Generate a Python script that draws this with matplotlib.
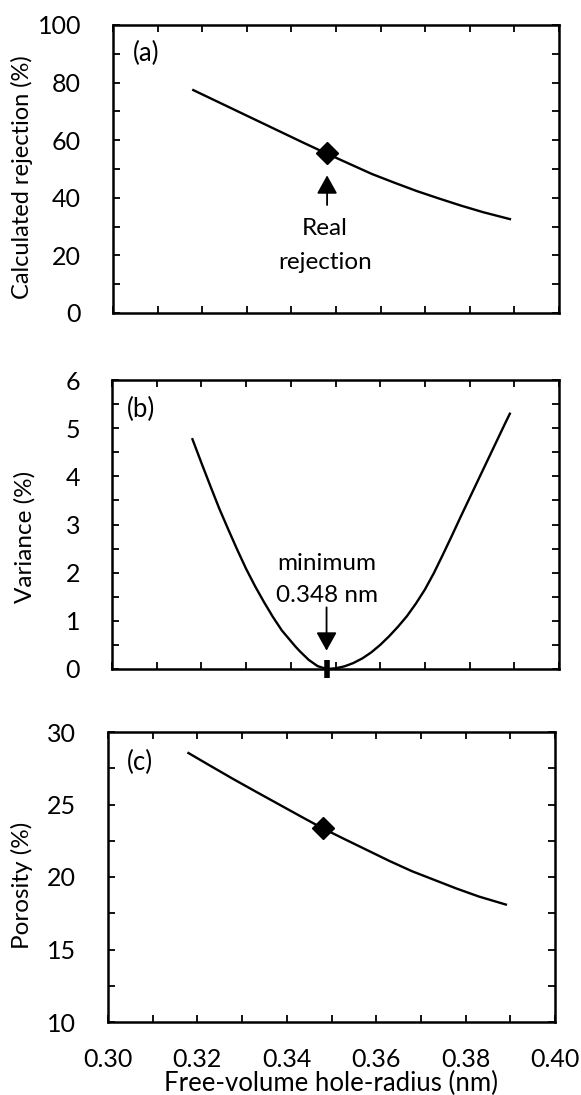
import matplotlib
matplotlib.use("Agg")
import matplotlib.pyplot as plt
from matplotlib.ticker import MultipleLocator, FormatStrFormatter

plt.rcParams['font.family'] = ['Lato', 'DejaVu Sans']
plt.rcParams['font.size'] = 17.5

# hole radius (nm)
radius = [0.318, 0.323, 0.328, 0.333, 0.338, 0.343, 0.348, 0.353, 0.358,
          0.363, 0.368, 0.373, 0.378, 0.383, 0.389]
rejection = [77.4, 73.7, 70.0, 66.3, 62.6, 58.9, 55.3, 51.8, 48.3,
             45.3, 42.4, 39.8, 37.3, 35.0, 32.6]
porosity = [28.55, 27.65, 26.76, 25.9, 25.05, 24.2, 23.36, 22.6, 21.85,
            21.1, 20.4, 19.8, 19.2, 18.65, 18.1]

var_radius = [0.318, 0.320, 0.322, 0.324, 0.326, 0.328, 0.330, 0.332, 0.334,
              0.336, 0.338, 0.340, 0.341, 0.342, 0.344, 0.346, 0.348, 0.350,
              0.352, 0.354, 0.356, 0.358, 0.360, 0.362, 0.364, 0.366, 0.368,
              0.370, 0.372, 0.374, 0.376, 0.378, 0.380, 0.382, 0.384, 0.386,
              0.388, 0.389]
variance = [4.77, 4.28, 3.80, 3.33, 2.90, 2.48, 2.08, 1.72, 1.39,
            1.08, 0.80, 0.58, 0.47, 0.37, 0.19, 0.06, 0.0, 0.014,
            0.055, 0.124, 0.22, 0.345, 0.50, 0.68, 0.88, 1.10, 1.36,
            1.65, 1.99, 2.37, 2.76, 3.16, 3.55, 3.94, 4.33, 4.72,
            5.11, 5.30]

real_r, real_rej = 0.348, 55.5
real_por = 23.36
min_r = 0.348

fig = plt.figure(figsize=(5.81, 10.95), dpi=100)
ax_a = fig.add_axes([113/581, 1 - 313/1095, 446/581, 288/1095])
ax_b = fig.add_axes([112/581, 1 - 669/1095, 447/581, 289/1095])
ax_c = fig.add_axes([108/581, 1 - 1022/1095, 447/581, 290/1095])

arrow = dict(arrowstyle='-|>,head_length=0.45,head_width=0.25', color='black',
             lw=1.3, mutation_scale=25, shrinkA=0, shrinkB=0)


def style(ax, ymaj, ymin, ylim):
    ax.set_xlim(0.30, 0.40)
    ax.set_ylim(*ylim)
    ax.xaxis.set_major_locator(MultipleLocator(0.02))
    ax.xaxis.set_minor_locator(MultipleLocator(0.01))
    ax.yaxis.set_major_locator(MultipleLocator(ymaj))
    ax.yaxis.set_minor_locator(MultipleLocator(ymin))
    ax.tick_params(which='both', direction='in', top=True, right=True,
                   length=5, width=1.3)
    ax.tick_params(axis='y', pad=23, labelsize=18)
    ax.tick_params(axis='x', pad=19, labelsize=18)
    for s in ax.spines.values():
        s.set_linewidth(1.8)


# (a)
ax_a.plot(radius, rejection, color='black', lw=1.7)
ax_a.plot([real_r], [real_rej], 'D', color='black', ms=11)
ax_a.annotate('', xy=(0.348, 47.8), xytext=(0.348, 37.5), arrowprops=arrow)
ax_a.text(0.3475, 29.5, 'Real', ha='center', va='center')
ax_a.text(0.3475, 17.5, 'rejection', ha='center', va='center')
ax_a.text(0.3045, 90, '(a)', ha='left', va='center', fontsize=18.5)
style(ax_a, 20, 10, (0, 100))
ax_a.set_xticklabels([])
ax_a.set_ylabel('Calculated rejection (%)', fontsize=17)
ax_a.yaxis.set_label_coords(-0.179, 0.472)

# (b)
ax_b.plot(var_radius, variance, color='black', lw=1.7)
ax_b.plot([min_r], [0], marker='|', color='black', ms=13, mew=4, clip_on=False)
ax_b.annotate('', xy=(0.348, 0.38), xytext=(0.348, 1.28), arrowprops=arrow)
ax_b.text(0.348, 2.2, 'minimum', ha='center', va='center')
ax_b.text(0.348, 1.52, '0.348 nm', ha='center', va='center')
ax_b.text(0.3034, 5.38, '(b)', ha='left', va='center', fontsize=18.5)
style(ax_b, 1, 0.5, (0, 6))
ax_b.set_xticklabels([])
ax_b.set_ylabel('Variance (%)')
ax_b.yaxis.set_label_coords(-0.172, 0.458)

# (c)
ax_c.plot(radius, porosity, color='black', lw=1.7)
ax_c.plot([real_r], [real_por], 'D', color='black', ms=11)
ax_c.text(0.3042, 27.9, '(c)', ha='left', va='center', fontsize=18.5)
style(ax_c, 5, 2.5, (10, 30))
ax_c.xaxis.set_major_formatter(FormatStrFormatter('%.2f'))
ax_c.set_ylabel('Porosity (%)')
ax_c.yaxis.set_label_coords(-0.168, 0.472)
ax_c.set_xlabel('Free-volume hole-radius (nm)', labelpad=0, fontsize=18.5)

fig.savefig('out.png', dpi=100)
